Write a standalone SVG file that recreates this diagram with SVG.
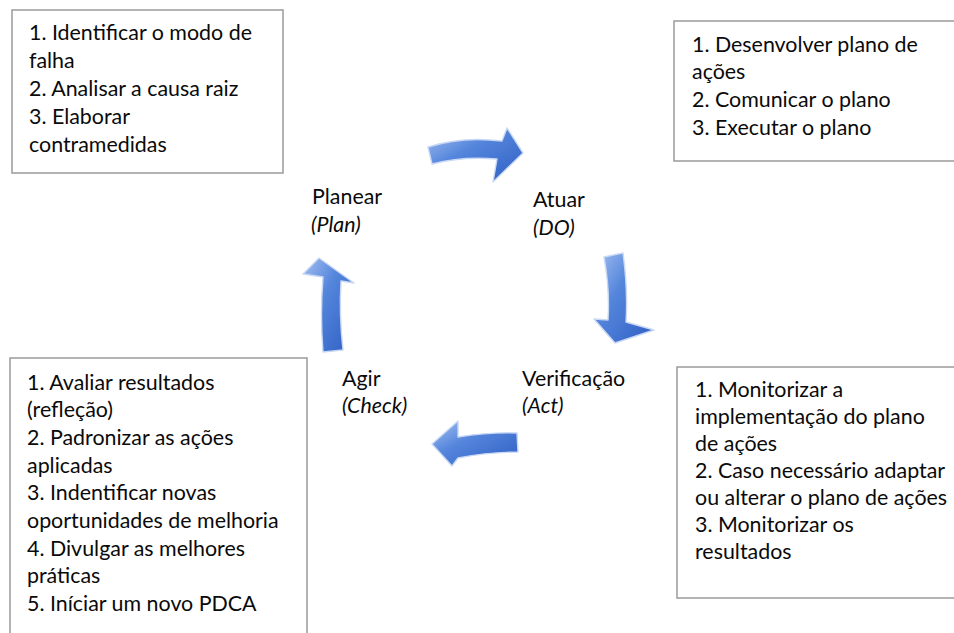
<svg xmlns="http://www.w3.org/2000/svg" width="954" height="633" viewBox="0 0 954 633">
<defs>
<style>
.box{fill:#fff;stroke:#9a9a9a;stroke-width:1.5}
.t{font-family:Lato,"Liberation Sans",sans-serif;font-size:21.4px;fill:#0a0a0a}
.i{font-style:italic}
.arr{fill:url(#g);stroke:#c9d8f4;stroke-width:1.4;stroke-linejoin:round}
</style>
<linearGradient id="g" x1="0" y1="0" x2="1" y2="1">
<stop offset="0" stop-color="#a6c1f0"/>
<stop offset="0.4" stop-color="#5586dc"/>
<stop offset="1" stop-color="#2e5ec3"/>
</linearGradient>
</defs>
<rect width="954" height="633" fill="#fff"/>

<g id="connectors">
<path class="arr" d="M428,147 Q462,136 502,141 L507,128 L523,153 L493,182 L497,159 Q462,156 432,164 Z"/>
<path class="arr" d="M604,257 L623,253 Q628,290 626,322 L654,330 L615,343 L594,319 L608,320 Q610,290 604,257 Z"/>
<path class="arr" d="M517,433 L518,452 Q490,452 458,458 L452,466 L432,444 L458,421 L458,437 Q490,432 517,433 Z"/>
<path class="arr" d="M323,352 L343,350 Q339,315 341,281 L354,283 L319,258 L303,274 L323,277 Q320,315 323,352 Z"/>
</g>

<g id="plan-box">
<rect class="box" x="12" y="10" width="271" height="163"/>
<text class="t"><tspan x="29" y="40">1. Identificar o modo de</tspan><tspan x="29" y="68">falha</tspan><tspan x="29" y="96">2. Analisar a causa raiz</tspan><tspan x="29" y="124">3. Elaborar</tspan><tspan x="29" y="152">contramedidas</tspan></text>
</g>

<g id="do-box">
<rect class="box" x="674" y="21" width="290" height="140"/>
<text class="t"><tspan x="692" y="52">1. Desenvolver plano de</tspan><tspan x="692" y="79">ações</tspan><tspan x="692" y="107">2. Comunicar o plano</tspan><tspan x="692" y="135">3. Executar o plano</tspan></text>
</g>

<g id="act-box">
<rect class="box" x="10" y="358" width="297" height="290"/>
<text class="t"><tspan x="27" y="390">1. Avaliar resultados</tspan><tspan x="27" y="417">(refleção)</tspan><tspan x="27" y="445">2. Padronizar as ações</tspan><tspan x="27" y="473">aplicadas</tspan><tspan x="27" y="500">3. Indentificar novas</tspan><tspan x="27" y="528">oportunidades de melhoria</tspan><tspan x="27" y="556">4. Divulgar as melhores</tspan><tspan x="27" y="583">práticas</tspan><tspan x="27" y="611">5. Iníciar um novo PDCA</tspan></text>
</g>

<g id="check-box">
<rect class="box" x="677" y="367" width="290" height="231"/>
<text class="t"><tspan x="695" y="397">1. Monitorizar a</tspan><tspan x="695" y="424">implementação do plano</tspan><tspan x="695" y="451">de ações</tspan><tspan x="695" y="478">2. Caso necessário adaptar</tspan><tspan x="695" y="505">ou alterar o plano de ações</tspan><tspan x="695" y="532">3. Monitorizar os</tspan><tspan x="695" y="559">resultados</tspan></text>
</g>

<g id="plan-label">
<text class="t" x="312" y="204">Planear</text>
<text class="t i" x="311" y="232">(Plan)</text>
</g>
<g id="do-label">
<text class="t" x="533" y="207">Atuar</text>
<text class="t i" x="533" y="235">(DO)</text>
</g>
<g id="check-label">
<text class="t" x="342" y="386">Agir</text>
<text class="t i" x="342" y="413">(Check)</text>
</g>
<g id="act-label">
<text class="t" x="522" y="386">Verificação</text>
<text class="t i" x="522" y="413">(Act)</text>
</g>
</svg>
